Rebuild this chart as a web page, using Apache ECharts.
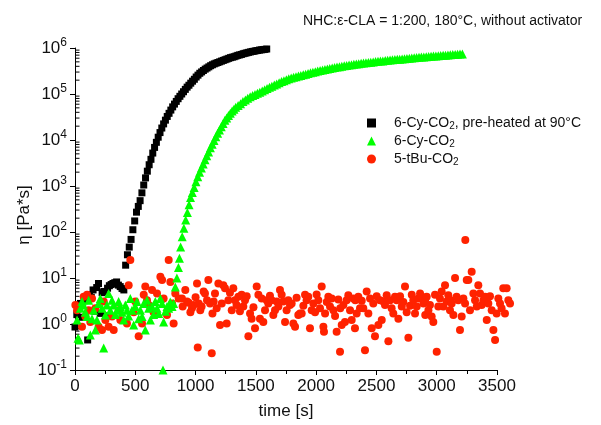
<!DOCTYPE html>
<html><head><meta charset="utf-8">
<script src="https://cdn.jsdelivr.net/npm/echarts@6/dist/echarts.min.js"></script>
<style>html,body{margin:0;padding:0;background:#fff}#c{width:601px;height:425px}</style>
</head><body><div id="c"></div>
<script>
const FONT = '"Liberation Sans", Arial, sans-serif';
const titleText = 'NHC:\u03b5-CLA = 1:200, 180\u00b0C, without activator';
const xName = 'time [s]';
const yName = '\u03b7 [Pa*s]';
const seriesNames = ['6-Cy-CO2, pre-heated at 90\u00b0C', '6-Cy-CO2', '5-tBu-CO2'];
const yDecades = [0.1, 1, 10, 100, 1000, 10000, 100000];
const minorMultipliers = [2, 3, 4, 5, 6, 7, 8, 9];

const blackData = [[0,0.86],[15,1.6],[30,2.5],[45,2.8],[60,1.4],[75,3.2],[90,3.6],[105,0.45],[120,4.3],[135,3.8],[150,5.5],[165,1.9],[180,6.2],[195,7.6],[210,1.7],[225,4.8],[240,5.1],[255,1.5],[270,6.0],[285,6.8],[300,7.2],[315,7.6],[330,7.9],[345,8.2],[360,7.0],[375,6.5],[390,5.9],[405,5.5],
[420,19],[435,32],[450,47],[465,69],[480,112],[495,174],[510,270],[525,360],[540,480],[555,710],[570,1050],[585,1500],[600,2100],[615,2900],[630,3800],[645,5200],[660,6900],[675,8900],[690,11500],[705,14500],[720,18200],[735,22400],[750,27000],[765,32500],[780,38000],[795,44700],[810,52500],[825,60300],[840,69000],[855,79000],[870,89000],[885,100000],[900,112000],[915,126000],[930,141000],[945,155000],[960,172000],[975,190000],[990,209000],[1005,234000],[1020,257000],[1035,282000],[1050,302000],[1065,324000],[1080,347000],[1095,367000],[1110,389000],[1125,412000],[1140,432000],[1155,452000],[1170,468000],[1185,484000],[1200,501000],[1215,519000],[1230,537000],[1245,556000],[1260,575000],[1275,596000],[1290,617000],[1305,631000],[1320,646000],[1335,668000],[1350,692000],[1365,708000],[1380,724000],[1395,750000],[1410,767000],[1425,785000],[1440,804000],[1455,822000],[1470,841000],[1485,851000],[1500,871000],[1515,881000],[1530,902000],[1545,912000],[1560,923000],[1575,933000],[1590,951000]];

const greenData = [[17,1.22],[25,0.49],[36,0.45],[44,2.2],[58,3.1],[70,2.6],[86,1.8],[100,1.45],[113,3.3],[127,0.58],[141,1.3],[155,2.0],[169,0.74],[182,1.22],[195,2.8],[210,3.6],[225,2.2],[238,0.3],[252,1.57],[265,2.6],[279,4.6],[293,2.0],[307,3.3],[321,2.6],[335,1.6],[348,2.0],[362,3.1],[376,2.4],[390,1.8],[404,1.22],[418,2.6],[432,2.0],[445,1.5],[459,3.6],[473,2.0],[487,0.95],[500,2.4],[514,3.1],[528,1.3],[542,2.0],[556,1.45],[570,2.8],[583,0.74],[597,3.3],[611,2.2],[625,1.22],[639,2.4],[652,1.6],[666,3.1],[680,2.2],[694,1.7],[708,3.6],[722,2.8],[730,0.1],[735,1.1],[750,1.9],[763,2.4],[777,2.2],[790,3.0],[805,2.4],[818,2.8],[832,6.4],
[845,10],[858,17],[866,27],[876,47],[889,79],[903,120],[918,182],[932,267],[946,390],[958,560],
[973,724],[988,933],[1003,1230],[1018,1585],[1033,2000],[1048,2450],[1063,3020],[1078,3720],[1093,4570],[1108,5500],[1123,6760],[1138,8130],[1153,9770],[1168,11700],[1183,14100],[1198,16600],[1213,19500],[1228,22900],[1243,26900],[1258,30200],[1273,33900],[1288,38000],[1303,42700],[1318,46800],[1333,51300],
[1353,56200],[1373,61700],[1393,68400],[1413,74100],[1433,80400],[1453,87100],[1473,92300],[1493,97700],[1513,103500],[1533,109600],[1553,116100],[1573,123000],[1593,131800],[1613,139600],[1633,147900],[1653,156700],[1673,166000],[1693,175800],[1713,186200],[1733,195000],[1753,204200],[1773,213800],[1793,223900],[1813,230100],[1833,237700],[1853,245500],[1873,253500],[1893,261800],[1913,270400],[1933,279300],[1953,288400],[1973,297800],[1993,306200],[2013,314800],[2033,323600],[2053,331900],[2073,340400],[2093,349100],[2113,358100],[2133,367300],[2153,375800],[2173,384600],[2193,393600],[2213,401800],[2233,409300],[2253,416900],[2273,424600],[2293,432500],[2313,440600],[2333,448700],[2353,456000],[2373,463400],[2393,471000],[2413,478600],[2433,485300],[2453,492000],[2473,498900],[2493,505800],[2513,512900],[2533,518800],[2553,524800],[2573,532100],[2593,538300],[2613,545800],[2633,552100],[2653,559800],[2673,566200],[2693,572800],[2713,579400],[2733,586100],[2753,592900],[2773,599800],[2793,606700],[2813,613800],[2833,620900],[2853,626600],[2873,633900],[2893,639700],[2913,647100],[2933,653100],[2953,660700],[2973,666800],[2993,673000],[3013,679200],[3033,685500],[3053,691800],[3073,698200],[3093,704700],[3113,711200],[3133,717800],[3153,724400],[3173,731100],[3193,737900],[3213,744700]];

const redData = [[3,2.6],[17,2.0],[58,0.87],[72,3.9],[86,1.45],[100,4.3],[113,2.0],[127,1.1],[141,3.6],[169,2.2],[196,0.87],[224,0.74],[238,3.1],[252,1.22],[279,0.87],[307,1.45],[321,0.74],[362,2.0],[376,1.22],[431,1.03],[445,7],[459,24.5],[487,1.8],[500,3.1],[528,0.54],[556,1.03],[570,4.3],[583,6.5],[597,3.3],[611,2.6],[639,5.5],[652,1.8],[680,4.6],[708,10.6],[722,9],[735,3.6],[763,1.57],[777,24.5],[791,8.2],[805,2.8],[818,1.03],[832,4.6],[860,3.6],[887,3.6],[893,2.4],[915,5.5],[929,3.1],[943,2.9],[957,1.8],[970,2.2],[984,2.6],[1000,3.8],[1012,7.6],[1018,0.31],[1026,2.8],[1039,2.0],[1050,2.4],[1067,5.1],[1078,4.6],[1095,3.3],[1106,9],[1120,2.8],[1134,0.23],[1140,1.7],[1150,3.1],[1161,4.6],[1175,2.2],[1189,7.6],[1203,0.95],[1217,2.8],[1230,7],[1244,6],[1258,1.03],[1272,3.3],[1285,4.8],[1300,2.0],[1313,6],[1327,3.3],[1340,2.6],[1355,3.9],[1368,1.9],[1382,4.3],[1396,2.4],[1410,3.3],[1424,4.0],[1438,0.54],[1452,1.7],[1465,1.3],[1480,2.3],[1493,0.81],[1507,6.5],[1521,4.3],[1534,1.3],[1548,3.6],[1562,1.1],[1576,2.0],[1590,3.3],[1603,2.8],[1617,4.1],[1631,3.3],[1645,1.57],[1659,2.0],[1673,3.1],[1687,2.4],[1700,5.5],[1714,4.3],[1728,3.1],[1742,1.1],[1755,2.0],[1769,3.3],[1783,2.6],[1797,2.8],[1811,1.03],[1825,0.87],[1838,3.7],[1852,1.57],[1866,1.7],[1880,1.7],[1894,2.5],[1908,4.3],[1921,3.3],[1935,3.9],[1949,0.81],[1963,2.0],[1977,2.8],[1991,1.8],[2004,4.4],[2018,3.3],[2032,2.2],[2046,6.5],[2060,0.87],[2065,0.68],[2074,1.7],[2088,3.0],[2101,3.9],[2115,2.4],[2129,3.6],[2143,2.0],[2157,1.5],[2170,0.68],[2184,3.4],[2198,0.25],[2200,2.2],[2212,0.95],[2226,2.6],[2239,1.1],[2253,3.3],[2267,4.2],[2281,2.0],[2295,1.22],[2309,3.6],[2322,0.81],[2325,3.3],[2336,1.7],[2350,3.9],[2364,2.2],[2378,3.2],[2391,2.2],[2405,0.27],[2419,5.1],[2433,1.7],[2447,3.6],[2461,0.81],[2474,2.8],[2488,0.54],[2502,4.0],[2516,0.95],[2530,3.3],[2544,1.22],[2557,3.1],[2571,2.6],[2585,4.2],[2599,0.42],[2613,3.3],[2626,2.2],[2640,1.7],[2654,3.9],[2668,3.3],[2682,1.3],[2696,4.0],[2710,2.4],[2723,3.0],[2737,6.5],[2751,1.8],[2765,0.5],[2779,2.5],[2793,4.3],[2806,3.3],[2820,1.7],[2834,2.4],[2848,3.6],[2862,4.6],[2876,3.9],[2890,2.8],[2903,3.3],[2905,1.57],[2917,3.9],[2931,2.0],[2944,2.6],[2958,1.45],[2972,1.1],[2986,4.3],[3000,0.25],[3013,2.4],[3027,3.6],[3041,5.1],[3055,2.4],[3069,7],[3083,3.1],[3096,4.2],[3110,2.0],[3115,3.3],[3124,2.8],[3138,1.57],[3152,10],[3165,3.9],[3179,3.3],[3193,0.74],[3207,1.45],[3221,3.6],[3235,2.8],[3237,67],[3249,9],[3262,9],[3276,2.0],[3290,13.7],[3304,4.6],[3318,3.3],[3332,2.4],[3345,7],[3359,4.6],[3373,2.6],[3387,3.3],[3401,3.9],[3415,1.22],[3428,2.8],[3442,4.0],[3456,2.0],[3470,0.74],[3484,0.45],[3497,1.7],[3511,3.6],[3525,2.8],[3538,2.2],[3552,6],[3566,1.7],[3580,6],[3594,3.3],[3608,2.8]];

// minor tick marks of the log axis (2..9 within each decade), drawn at x = 0
const minorTickData = [];
yDecades.forEach(d => minorMultipliers.forEach(m => minorTickData.push([0, d * m])));

const legendLabels = {};
legendLabels[seriesNames[0]] = '{p|6-Cy-CO}{s|2}{t|, pre-heated at 90\u00b0C}';
legendLabels[seriesNames[1]] = '{p|6-Cy-CO}{s|2}';
legendLabels[seriesNames[2]] = '{p|5-tBu-CO}{s|2}';

const chart = echarts.init(document.getElementById('c'), null, {renderer: 'canvas'});
chart.setOption({
  animation: false,
  backgroundColor: '#fff',
  title: {
    text: titleText, left: 298, top: 9,
    textStyle: {fontFamily: FONT, fontSize: 14, fontWeight: 'normal', color: '#111'}
  },
  legend: {
    orient: 'vertical', left: 362, top: 111, itemWidth: 9, itemHeight: 9, itemGap: 3,
    data: [{name: seriesNames[0], icon: 'rect'}, {name: seriesNames[1], icon: 'triangle'}, {name: seriesNames[2], icon: 'circle'}],
    formatter: n => legendLabels[n],
    textStyle: {
      fontFamily: FONT, fontSize: 14, color: '#111',
      rich: {
        p: {fontFamily: FONT, fontSize: 14, color: '#111', lineHeight: 16, padding: [0, 0, 0, 13]},
        t: {fontFamily: FONT, fontSize: 14, color: '#111', lineHeight: 16},
        s: {fontFamily: FONT, fontSize: 10, color: '#111', lineHeight: 8, verticalAlign: 'bottom'}
      }
    }
  },
  grid: {left: 75, top: 48, right: 104, bottom: 55, containLabel: false},
  xAxis: {
    type: 'value', min: 0, max: 3500, interval: 500,
    name: xName, nameLocation: 'middle', nameGap: 33, nameMoveOverlap: false,
    nameTextStyle: {fontFamily: FONT, fontSize: 17, color: '#111'},
    axisLine: {show: true, onZero: false, lineStyle: {color: '#000', width: 1}},
    axisTick: {show: true, inside: false, length: 5, lineStyle: {color: '#000'}},
    minorTick: {show: true, splitNumber: 2, length: 4, lineStyle: {color: '#000'}},
    splitLine: {show: false},
    axisLabel: {fontFamily: FONT, fontSize: 17, color: '#111', margin: 8, formatter: v => String(v)}
  },
  yAxis: {
    type: 'log', logBase: 10, min: 0.1, max: 1000000,
    name: yName, nameLocation: 'middle', nameGap: 42, nameRotate: 90, nameMoveOverlap: false,
    nameTextStyle: {fontFamily: FONT, fontSize: 17, color: '#111', padding: [0, 12, 0, 0]},
    axisLine: {show: true, onZero: false, lineStyle: {color: '#000', width: 1}},
    axisTick: {show: true, inside: false, length: 5, lineStyle: {color: '#000'}},
    splitLine: {show: false},
    axisLabel: {
      margin: 8,
      formatter: v => '{b|10}{s|' + Math.round(Math.log10(v)) + '}',
      rich: {
        b: {fontFamily: FONT, fontSize: 17, color: '#111', lineHeight: 22},
        s: {fontFamily: FONT, fontSize: 12, color: '#111', lineHeight: 12, verticalAlign: 'top'}
      }
    }
  },
  series: [
    {name: 'minorTicks', type: 'scatter', data: minorTickData, symbol: 'rect', symbolSize: [4, 1],
     symbolOffset: [2.5, 0], clip: false, silent: true, z: 1,
     itemStyle: {color: '#000', opacity: 1}},
    {name: seriesNames[0], type: 'scatter', data: blackData, symbol: 'rect', symbolSize: 7, clip: false,
     itemStyle: {color: '#000', opacity: 1}},
    {name: seriesNames[2], type: 'scatter', data: redData, symbol: 'circle', symbolSize: 8, clip: false,
     itemStyle: {color: '#ff2200', opacity: 1}},
    {name: seriesNames[1], type: 'scatter', data: greenData, symbol: 'triangle', symbolSize: 9, clip: false,
     itemStyle: {color: '#00ff00', opacity: 1}}
  ]
});
</script></body></html>
